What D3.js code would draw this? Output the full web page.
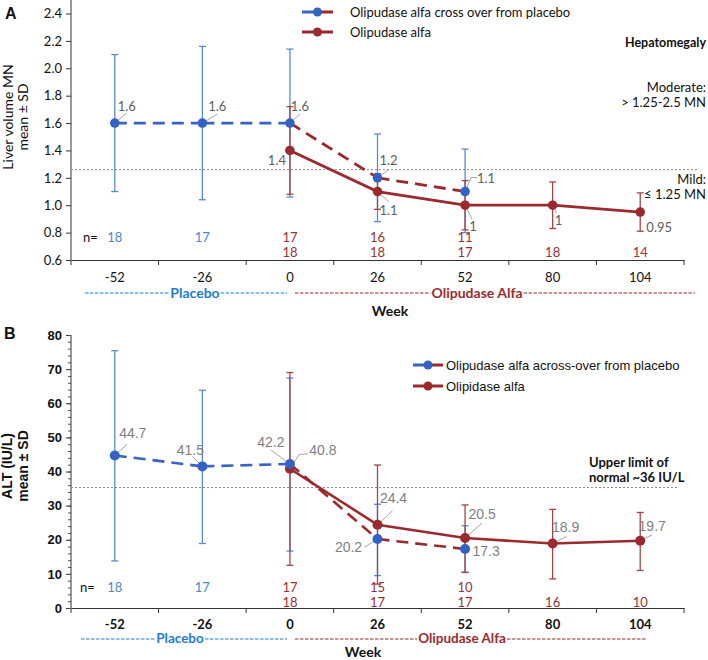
<!DOCTYPE html>
<html><head><meta charset="utf-8">
<script src="https://cdn.jsdelivr.net/npm/d3@7"></script>
<style>body{margin:0;background:#fff}</style></head>
<body><svg id="c" width="708" height="660"></svg>
<script>
// ---------- DATA ----------
const weeks = ["-52","-26","0","26","52","80","104"];
const placeboWeeks = ["-52","-26"];

// Panel A: liver volume (MN)
const liverCrossWeeks = ["-52","-26","0","26","52"];
const liverCrossMean  = [1.6, 1.6, 1.6, 1.2, 1.1];
const liverCrossLow   = [1.10, 1.04, 1.06, 0.88, 0.80];
const liverCrossHigh  = [2.10, 2.16, 2.14, 1.52, 1.41];
const liverCrossN     = ["18","17","17","16","11"];
const liverOliWeeks   = ["0","26","52","80","104"];
const liverOliMean    = [1.4, 1.1, 1.0, 1.0, 0.95];
const liverOliLow     = [1.08, 0.97, 0.82, 0.83, 0.81];
const liverOliHigh    = [1.72, 1.23, 1.18, 1.17, 1.09];
const liverOliN       = ["18","18","17","18","14"];
const liverTicks      = [0.6,0.8,1.0,1.2,1.4,1.6,1.8,2.0,2.2,2.4];
const liverThreshold  = 1.26;

// Panel B: ALT (IU/L)
const altCrossWeeks = ["-52","-26","0","26","52"];
const altCrossMean  = [44.7, 41.5, 42.2, 20.2, 17.3];
const altCrossLow   = [13.8, 18.9, 16.7, 9.5, 10.5];
const altCrossHigh  = [75.4, 63.8, 67.4, 30.4, 24.1];
const altCrossN     = ["18","17","17","15","10"];
const altOliWeeks   = ["0","26","52","80","104"];
const altOliMean    = [40.8, 24.4, 20.5, 18.9, 19.7];
const altOliLow     = [12.5, 7.0, 10.4, 8.5, 11.0];
const altOliHigh    = [69.0, 41.9, 30.2, 28.9, 28.0];
const altOliN       = ["18","17","17","16","10"];
const altTicks      = [0,10,20,30,40,50,60,70,80];
const altMinorTicks = d3.range(0, 81, 2);
const altThreshold  = 35.3;

// ---------- LAYOUT (label placement, not data) ----------
const liverCrossLab = [{dx:12,dy:-17,l:[[12,-10]]},{dx:15,dy:-17,l:[[15,-9]]},{dx:10,dy:-17,l:[[10,-9]]},{dx:11,dy:-18,l:[[11,-8]]},{dx:21,dy:-14,l:[[6,-14],[12,-14]]}];
const liverOliLab   = [{dx:-13,dy:10,l:null},{dx:11,dy:18,l:[[11,10]]},{dx:8,dy:21,l:[[7,14]]},{dx:6,dy:15,l:[[4,8]]},{dx:19,dy:15,l:null}];
const altCrossLab   = [{dx:18,dy:-22,l:[[12,-11]]},{dx:-12,dy:-16,l:[[-10,-10]]},{dx:-19,dy:-22,l:[[-19,-14]]},{dx:-29,dy:8,l:[[-13,8]]},{dx:21,dy:2,l:null}];
const altOliLab     = [{dx:33,dy:-19,l:[[9,-14],[18,-15]]},{dx:16,dy:-27,l:[[15,-14]]},{dx:17,dy:-24,l:[[17,-15]]},{dx:13,dy:-17,l:[[14,-7]]},{dx:12,dy:-15,l:[[12,-6]]}];

const C = {
  blueDot:"#3462c4", blueErr:"#5b8ad4", blueLine:"#3a62c2",
  red:"#9b2a2e", redErr:"#a84446", nBlue:"#4a88cc", nRed:"#9b3034",
  plBlue:"#1c7ed2", grayLab:"#5e5e5e", grayLab2:"#7f7f7f", leader:"#a6a6a6"
};
const CAL = "Lato, 'Open Sans', sans-serif";
const ARL = "'Liberation Sans', Arial, sans-serif";

const svg = d3.select("#c");
const x = d3.scaleBand().domain(weeks).range([71, 684]).paddingInner(0).paddingOuter(0);
const cx = w => x(w) + x.bandwidth()/2;

function drawPanel(P) {
  const g = svg.append("g");
  const y = P.y;
  const yAx = d3.axisLeft(y).tickValues(P.ticks).tickSize(5).tickSizeOuter(0)
      .tickFormat(P.tickFmt);
  const ya = g.append("g").attr("transform","translate(71,0)").call(yAx);
  ya.select(".domain").remove();
  ya.selectAll(".tick line").attr("stroke","#333").attr("x2",-5);
  ya.selectAll(".tick text").attr("font-family",P.yFont).attr("font-size",P.yFontSize)
    .attr("font-weight",P.yWeight).attr("fill","#111").attr("x",-9);
  if (P.minor) {
    g.append("g").attr("transform","translate(71,0)")
     .call(d3.axisLeft(y).tickValues(P.minor).tickSize(3).tickFormat(""))
     .call(s=>{s.select(".domain").remove(); s.selectAll("line").attr("stroke","#555");});
  }
  g.append("line").attr("x1",71).attr("x2",71).attr("y1",P.axisTop).attr("y2",y.range()[0])
    .attr("stroke","#333").attr("stroke-width",1);
  const xa = g.append("g").attr("transform",`translate(0,${y.range()[0]})`)
    .call(d3.axisBottom(x).tickSize(0).tickSizeOuter(0));
  xa.select(".domain").attr("stroke","#333");
  xa.selectAll(".tick text").attr("font-family",CAL).attr("font-size",13)
    .attr("font-weight",P.xWeight).attr("fill","#111").attr("dy",0).attr("y",P.xLabDy)
    .attr("dominant-baseline","central");
  const bounds = weeks.map(w=>x(w)).concat([x.range()[1]]);
  g.selectAll(null).data(bounds).join("line")
    .attr("x1",d=>d).attr("x2",d=>d).attr("y1",y.range()[0]).attr("y2",y.range()[0]+5)
    .attr("stroke","#333");
  g.append("line").attr("x1",71).attr("x2",P.thrEnd).attr("y1",y(P.thr)).attr("y2",y(P.thr))
    .attr("stroke","#8a8a8a").attr("stroke-width",1).attr("stroke-dasharray","2,2");

  const cross = P.crossWeeks.map((w,i)=>({w,m:P.crossMean[i],lo:P.crossLow[i],hi:P.crossHigh[i],lab:P.crossLab[i],n:P.crossN[i]}));
  const oli = P.oliWeeks.map((w,i)=>({w,m:P.oliMean[i],lo:P.oliLow[i],hi:P.oliHigh[i],lab:P.oliLab[i],n:P.oliN[i]}));

  function errBars(data,color){
    const e = g.append("g").attr("stroke",color).attr("stroke-width",1.3).attr("fill","none");
    data.forEach(d=>{
      e.append("line").attr("x1",cx(d.w)).attr("x2",cx(d.w)).attr("y1",y(d.lo)).attr("y2",y(d.hi));
      [d.lo,d.hi].forEach(v=>e.append("line").attr("x1",cx(d.w)-3.5).attr("x2",cx(d.w)+3.5).attr("y1",y(v)).attr("y2",y(v)));
    });
  }
  errBars(cross, C.blueErr);
  errBars(oli, C.redErr);

  const line = d3.line().x(d=>cx(d.w)).y(d=>y(d.m));
  g.append("path").datum(oli).attr("d",line).attr("fill","none").attr("stroke",C.red)
    .attr("stroke-width",P.lw);
  for (let i=0;i<cross.length-1;i++){
    const blue = placeboWeeks.includes(cross[i].w);
    g.append("path").datum([cross[i],cross[i+1]]).attr("d",line).attr("fill","none")
      .attr("stroke",blue?C.blueLine:C.red).attr("stroke-width",P.lw)
      .attr("stroke-dasharray","12,7");
  }
  function leaders(data){
    data.forEach(d=>{
      const px=cx(d.w), py=y(d.m);
      if (d.lab.l){
        const pts=[[px,py]].concat(d.lab.l.map(o=>[px+o[0],py+o[1]]));
        g.append("path").attr("d",d3.line()(pts)).attr("fill","none").attr("stroke",C.leader).attr("stroke-width",1);
      }
    });
  }
  leaders(cross); leaders(oli);
  g.selectAll(null).data(oli).join("circle").attr("cx",d=>cx(d.w)).attr("cy",d=>y(d.m))
    .attr("r",P.r).attr("fill",C.red);
  g.selectAll(null).data(cross).join("circle").attr("cx",d=>cx(d.w)).attr("cy",d=>y(d.m))
    .attr("r",P.r).attr("fill",C.blueDot);
  cross.concat(oli).forEach(d=>{
    g.append("text").attr("x",cx(d.w)+d.lab.dx).attr("y",y(d.m)+d.lab.dy)
      .attr("text-anchor","middle").attr("dominant-baseline","central")
      .attr("font-family",P.labFont).attr("font-size",P.labSize).attr("fill",P.labColor)
      .text(String(d.m));
  });
  g.append("text").attr("x",P.nX).attr("y",P.nY1).attr("dominant-baseline","central")
    .attr("font-family",CAL).attr("font-size",13).attr("fill","#111").text("n=");
  cross.forEach(d=>{
    g.append("text").attr("x",cx(d.w)).attr("y",P.nY1).attr("text-anchor","middle").attr("dominant-baseline","central")
     .attr("font-family",CAL).attr("font-size",13)
     .attr("fill",placeboWeeks.includes(d.w)?C.nBlue:C.nRed).text(d.n);
  });
  oli.forEach(d=>{
    g.append("text").attr("x",cx(d.w)).attr("y",P.nY2).attr("text-anchor","middle").attr("dominant-baseline","central")
     .attr("font-family",CAL).attr("font-size",13).attr("fill",C.nRed).text(d.n);
  });
  function period(x1,x2,tc,label,col,yy){
    const t = g.append("text").attr("x",tc).attr("y",yy).attr("text-anchor","middle").attr("dominant-baseline","central")
      .attr("font-family",CAL).attr("font-size",P.perSize).attr("font-weight","bold").attr("fill",col).text(label);
    const bb = t.node().getBBox();
    [[x1,bb.x-1],[bb.x+bb.width+1,x2]].forEach(s=>{
      g.append("line").attr("x1",s[0]).attr("x2",s[1]).attr("y1",yy+1).attr("y2",yy+1)
       .attr("stroke",col).attr("stroke-width",1.2).attr("stroke-dasharray","3.5,1.5");
    });
  }
  period(P.plX1,P.plX2,P.plC,"Placebo",C.plBlue,P.perY);
  period(P.olX1,P.olX2,P.olC,"Olipudase Alfa",C.red,P.perY);
  g.append("text").attr("x",P.weekX).attr("y",P.weekY).attr("text-anchor","middle").attr("dominant-baseline","central")
    .attr("font-family",CAL).attr("font-size",14).attr("font-weight","bold").attr("fill","#111").text("Week");
  const yt = g.append("text").attr("transform",`translate(${P.ytX},${P.ytY}) rotate(-90)`)
    .attr("text-anchor","middle").attr("font-family",P.ytFont).attr("font-size",P.ytSize)
    .attr("font-weight",P.ytWeight).attr("fill","#111");
  yt.append("tspan").attr("x",0).attr("dy",0).text(P.yt1);
  yt.append("tspan").attr("x",0).attr("dy",P.ytGap).text(P.yt2);
  g.append("text").attr("x",P.letterX).attr("y",P.letterY).attr("dominant-baseline","central")
    .attr("font-family",ARL).attr("font-size",16).attr("font-weight","bold").attr("fill","#111").text(P.letter);
  P.legend.forEach(L=>{
    const yy = L.y;
    if (L.split){
      g.append("line").attr("x1",L.x1).attr("x2",(L.x1+L.x2)/2).attr("y1",yy).attr("y2",yy).attr("stroke",C.blueLine).attr("stroke-width",3);
      g.append("line").attr("x1",(L.x1+L.x2)/2).attr("x2",L.x2).attr("y1",yy).attr("y2",yy).attr("stroke",C.red).attr("stroke-width",3);
      g.append("circle").attr("cx",(L.x1+L.x2)/2).attr("cy",yy).attr("r",4.5).attr("fill",C.blueDot);
    } else {
      g.append("line").attr("x1",L.x1).attr("x2",L.x2).attr("y1",yy).attr("y2",yy).attr("stroke",C.red).attr("stroke-width",3);
      g.append("circle").attr("cx",(L.x1+L.x2)/2).attr("cy",yy).attr("r",4.5).attr("fill",C.red);
    }
    g.append("text").attr("x",L.tx).attr("y",yy).attr("dominant-baseline","central")
      .attr("font-family",P.legFont).attr("font-size",13).attr("fill","#111").text(L.text);
  });
  return g;
}

// Panel A
const yA = d3.scaleLinear().domain([0.6,2.4]).range([260,13.5]);
drawPanel({
  y:yA, ticks:liverTicks, tickFmt:d3.format(".1f"), yFont:CAL, yFontSize:13, yWeight:"normal",
  axisTop:0, xWeight:"normal", xLabDy:17, thr:liverThreshold, thrEnd:697,
  crossWeeks:liverCrossWeeks, crossMean:liverCrossMean, crossLow:liverCrossLow, crossHigh:liverCrossHigh, crossLab:liverCrossLab, crossN:liverCrossN,
  oliWeeks:liverOliWeeks, oliMean:liverOliMean, oliLow:liverOliLow, oliHigh:liverOliHigh, oliLab:liverOliLab, oliN:liverOliN,
  lw:2.8, r:4.8, labFont:CAL, labSize:13, labColor:C.grayLab,
  nX:83, nY1:237, nY2:252,
  plX1:85, plX2:287, plC:195, olX1:295, olX2:695, olC:477, perY:292, perSize:14,
  weekX:390, weekY:310,
  ytX:13, ytY:117, ytFont:CAL, ytSize:14, ytWeight:"normal", yt1:"Liver volume MN", yt2:"mean ± SD", ytGap:15,
  letter:"A", letterX:5, letterY:13,
  legFont:CAL,
  legend:[{x1:302,x2:333,y:12,tx:350,split:true,text:"Olipudase alfa cross over from placebo"},
          {x1:302,x2:333,y:32,tx:350,split:false,text:"Olipudase alfa"}]
});
[["Hepatomegaly",42,"bold"],["Moderate:",87,"normal"],["> 1.25-2.5 MN",102,"normal"],["Mild:",179,"normal"],["≤ 1.25 MN",194,"normal"]]
 .forEach(a=>svg.append("text").attr("x",706).attr("y",a[1]).attr("text-anchor","end").attr("dominant-baseline","central")
   .attr("font-family",CAL).attr("font-size",a[2]==="bold"?12.5:13).attr("font-weight",a[2]).attr("fill","#111").text(a[0]));

// Panel B
const yB = d3.scaleLinear().domain([0,80]).range([608,335]);
drawPanel({
  y:yB, ticks:altTicks, minor:altMinorTicks, tickFmt:d3.format("d"), yFont:ARL, yFontSize:13, yWeight:"bold",
  axisTop:335, xWeight:"bold", xLabDy:16, thr:altThreshold, thrEnd:678,
  crossWeeks:altCrossWeeks, crossMean:altCrossMean, crossLow:altCrossLow, crossHigh:altCrossHigh, crossLab:altCrossLab, crossN:altCrossN,
  oliWeeks:altOliWeeks, oliMean:altOliMean, oliLow:altOliLow, oliHigh:altOliHigh, oliLab:altOliLab, oliN:altOliN,
  lw:2.6, r:5, labFont:ARL, labSize:14, labColor:C.grayLab2,
  nX:80, nY1:587, nY2:602,
  plX1:81, plX2:287, plC:180, olX1:295, olX2:647, olC:462, perY:638, perSize:13.5,
  weekX:363, weekY:651,
  ytX:12, ytY:466, ytFont:ARL, ytSize:14, ytWeight:"bold", yt1:"ALT (IU/L)", yt2:"mean ± SD", ytGap:16,
  letter:"B", letterX:4, letterY:333,
  legFont:ARL,
  legend:[{x1:413,x2:443,y:365,tx:446,split:true,text:"Olipudase alfa across-over from placebo"},
          {x1:413,x2:443,y:386,tx:446,split:false,text:"Olipidase alfa"}]
});
[["Upper limit of",462],["normal ~36 IU/L",477]].forEach(a=>svg.append("text").attr("x",589).attr("y",a[1])
  .attr("dominant-baseline","central").attr("font-family",CAL).attr("font-size",13).attr("font-weight","bold")
  .attr("fill","#111").text(a[0]));
</script></body></html>
